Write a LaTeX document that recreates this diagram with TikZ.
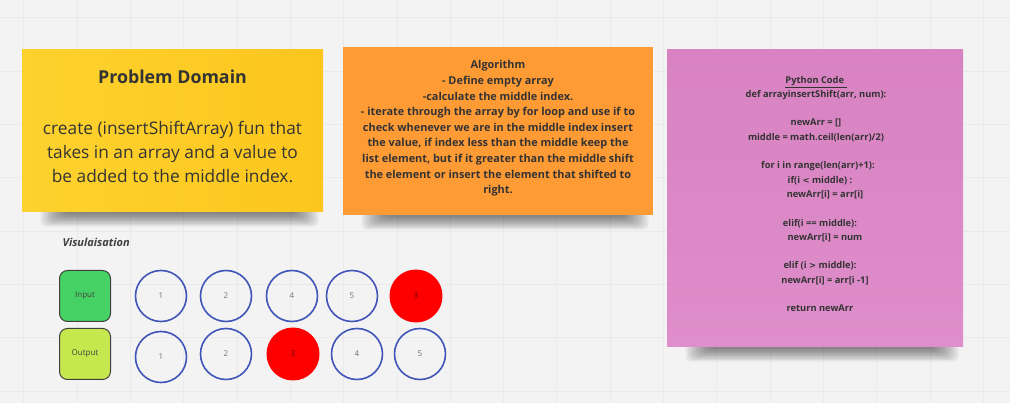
\documentclass[tikz,border=0pt]{standalone}
\usepackage{fontspec}
\setmainfont{Open Sans}
\usetikzlibrary{calc}
\definecolor{canvas}{HTML}{F3F3F3}
\definecolor{gridc}{HTML}{EAEAEA}
\definecolor{noteY}{HTML}{FDD22E}
\definecolor{noteYd}{HTML}{FCC61E}
\definecolor{noteO}{HTML}{FF9B35}
\definecolor{noteP}{HTML}{D882C2}
\definecolor{notePl}{HTML}{DE8ECA}
\definecolor{txt}{HTML}{333333}
\definecolor{ringc}{HTML}{3F55B8}
\definecolor{inG}{HTML}{45D163}
\definecolor{outG}{HTML}{C4E84E}
\definecolor{redc}{HTML}{FF0000}
\tikzset{
  ring/.style={circle, draw=ringc, line width=1.6pt, minimum size=51pt, inner sep=0pt, font=\fontsize{8}{10}\selectfont, text=black!55},
  redring/.style={circle, fill=redc, minimum size=53pt, inner sep=0pt, font=\fontsize{8}{10}\selectfont, text=black!60!red},
  lbox/.style={draw=black!75, line width=1pt, rounded corners=8pt, minimum width=51pt, minimum height=51pt, inner sep=0pt, font=\fontsize{8}{10}\selectfont, text=black!75},
}
\newcommand{\notesh}[4]{% x1 y1 x2 y2 (y down)
  \foreach \i in {1,...,10}{
    \fill[black, opacity=0.055, rounded corners=6pt] (#1+16+\i*2.5, #4-8) rectangle (#3-2-\i*2.5, #4+16-\i*1.4);
  }
}
\begin{document}
\begin{tikzpicture}[x=1pt,y=-1pt]
\useasboundingbox (0,0) rectangle (1010,403);
\fill[canvas] (0,0) rectangle (1010,403);
% grid
\foreach \gx in {23.7,77,130.3,...,1010}{\draw[gridc, line width=0.5pt] (\gx,0) -- (\gx,403);}
\foreach \gy in {17.7,71,124.3,...,403}{\draw[gridc, line width=0.5pt] (0,\gy) -- (1010,\gy);}
% shadows
\notesh{22}{50}{323}{212}
\notesh{343}{47}{653}{215}
\notesh{667}{50}{963}{347}
% yellow note
\shade[left color=noteY, right color=noteYd, shading angle=90] (22,50) rectangle (323,212);
\node[font=\fontsize{17.8}{20}\selectfont\bfseries, text=txt] (pdtitle) at (172.5,77) {Problem Domain};
\node[align=center, font=\fontsize{17.3}{24.3}\selectfont, text=txt] (pdbody) at (172.5,152) {create (insertShiftArray) fun that\\takes in an array and a value to\\be added to the middle index.};
% orange note
\fill[noteO] (343,47) rectangle (653,215);
\node[align=center, font=\fontsize{10.9}{15.6}\selectfont\bfseries, text=txt, anchor=north] (algo) at (498,57) {Algorithm\\- Define empty array\\-calculate the middle index.\\- iterate through the array by for loop and use if to\\check whenever we are in the middle index insert\\the value, if index less than the middle keep the\\list element, but if it greater than the middle shift\\the element or insert the element that shifted to\\right.};
% pink note
\shade[top color=noteP, bottom color=notePl] (667,50) rectangle (963,347);
\node[align=center, font=\fontsize{9.3}{14.3}\selectfont\bfseries, text=txt, anchor=north] (code) at (816,72.5) {\underline{Python Code\ }\\def arrayinsertShift(arr, num):\\[14.3pt]
newArr = []\\middle = math.ceil(len(arr)/2)\\[14.3pt]
\hspace*{4pt}for i in range(len(arr)+1):\\\hspace*{8pt}if(i {\fontspec{DejaVu Sans}\fontsize{8.5}{14.3}\selectfont<} middle) :\\\hspace*{18pt}newArr[i] = arr[i]\\[14.3pt]
\hspace*{8pt}elif(i == middle):\\\hspace*{18pt}newArr[i] = num\\[14.3pt]
\hspace*{8pt}elif (i {\fontspec{DejaVu Sans}\fontsize{8.5}{14.3}\selectfont>} middle):\\\hspace*{18pt}newArr[i] = arr[i -1]\\[14.3pt]
\hspace*{8pt}return newArr};
% visualisation
\node[font=\fontsize{11}{13}\selectfont\bfseries\itshape, text=black!75, anchor=west] (vis) at (59,242) {Visulaisation};
\node[lbox, fill=inG] (inp) at (85,296) {Input};
\node[lbox, fill=outG] (outp) at (85,354) {Output};
\node[ring] (i1) at (161,296) {1};
\node[ring] (i2) at (226,296) {2};
\node[ring] (i4) at (292,296) {4};
\node[ring] (i5) at (352,296) {5};
\node[redring] (i3) at (416,296) {3};
\node[ring] (o1) at (161,357) {1};
\node[ring] (o2) at (226,354) {2};
\node[redring] (o3) at (293,354) {3};
\node[ring] (o4) at (357,354) {4};
\node[ring] (o5) at (420,354) {5};
\end{tikzpicture}
\end{document}
